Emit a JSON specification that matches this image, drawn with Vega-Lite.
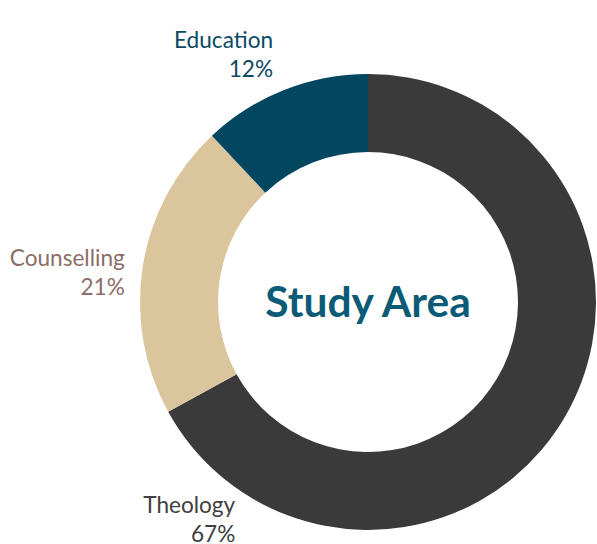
{
  "$schema": "https://vega.github.io/schema/vega-lite/v6.json",
  "width": 456,
  "height": 456,
  "autosize": {"type": "none"},
  "padding": {"left": 140, "top": 74, "right": 1, "bottom": 14},
  "background": "white",
  "config": {"view": {"stroke": null}, "font": "Lato"},
  "data": {
    "values": [
      {"category": "Theology", "value": 67, "label": "Theology\n67%"},
      {"category": "Counselling", "value": 21, "label": "Counselling\n21%"},
      {"category": "Education", "value": 12, "label": "Education\n12%"}
    ]
  },
  "layer": [
    {
      "mark": {"type": "arc", "radius": 228, "innerRadius": 150},
      "encoding": {
        "theta": {"field": "value", "type": "quantitative", "stack": true},
        "order": {"field": "value", "sort": "descending"},
        "color": {
          "field": "category",
          "type": "nominal",
          "scale": {"domain": ["Theology", "Counselling", "Education"], "range": ["#3a3a3a", "#dbc59d", "#02475f"]},
          "legend": null
        }
      }
    },
    {
      "mark": {
        "type": "text",
        "radius": 228,
        "align": "right",
        "baseline": "alphabetic",
        "fontSize": 22.6,
        "lineBreak": "\n",
        "lineHeight": 28.5,
        "dx": {"expr": "datum.category == 'Theology' ? -329 : datum.category == 'Counselling' ? -18 : -11"},
        "dy": {"expr": "datum.category == 'Theology' ? 95 : datum.category == 'Counselling' ? 0 : -42"}
      },
      "encoding": {
        "theta": {"field": "value", "type": "quantitative", "stack": true},
        "order": {"field": "value", "sort": "descending"},
        "text": {"field": "label", "type": "nominal"},
        "color": {
          "field": "category",
          "type": "nominal",
          "scale": {"domain": ["Theology", "Counselling", "Education"], "range": ["#404040", "#8b6e67", "#0b4a62"]},
          "legend": null
        }
      }
    },
    {
      "data": {"values": [{"title": "Study Area"}]},
      "mark": {"type": "text", "fontSize": 42.5, "fontWeight": "bold", "color": "#0b5b76", "baseline": "middle", "align": "center", "dy": 2},
      "encoding": {"text": {"field": "title", "type": "nominal"}}
    }
  ],
  "resolve": {"scale": {"color": "independent"}}
}
